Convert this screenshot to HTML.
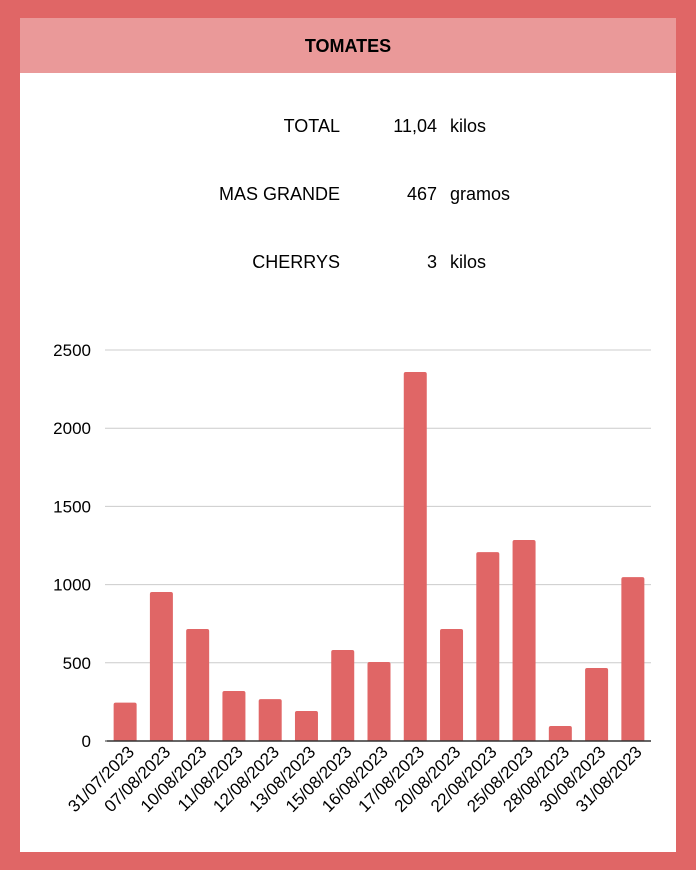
<!DOCTYPE html>
<html><head><meta charset="utf-8"><style>
body{margin:0;width:696px;height:870px;background:#e06666;font-family:"Liberation Sans",Arial,sans-serif;position:relative;overflow:hidden}
#panel{position:absolute;left:20px;top:18px;width:656px;height:834px;background:#fff}
#hdr{position:absolute;left:0;top:0;width:656px;height:55px;background:#ea9999;text-align:center;line-height:56px;font-weight:bold;font-size:18px;color:#000}
</style></head><body>
<div id="panel">
<div id="hdr">TOMATES</div>
</div>
<div style="position:absolute;left:20px;top:0;width:656px;height:870px;font-size:18px">
<div style="position:absolute;right:336px;top:116px">TOTAL</div>
<div style="position:absolute;right:239px;top:116px">11,04</div>
<div style="position:absolute;left:430px;top:116px">kilos</div>
<div style="position:absolute;right:336px;top:184px">MAS GRANDE</div>
<div style="position:absolute;right:239px;top:184px">467</div>
<div style="position:absolute;left:430px;top:184px">gramos</div>
<div style="position:absolute;right:336px;top:252px">CHERRYS</div>
<div style="position:absolute;right:239px;top:252px">3</div>
<div style="position:absolute;left:430px;top:252px">kilos</div>
</div>
<svg id="chart" width="696" height="870" style="position:absolute;left:0;top:0"></svg>
<script>
const categories=["31/07/2023","07/08/2023","10/08/2023","11/08/2023","12/08/2023","13/08/2023","15/08/2023","16/08/2023","17/08/2023","20/08/2023","22/08/2023","25/08/2023","28/08/2023","30/08/2023","31/08/2023"];
const values=[245,953,716,320,268,192,582,505,2359,716,1208,1285,96,467,1048];
const ticks=[0,500,1000,1500,2000,2500];
const NS="http://www.w3.org/2000/svg";
const svg=document.getElementById('chart');
const x0=107,x1=651,y0=741,yTop=350,max=2500;
const y=v=>y0-(y0-yTop)*v/max;
const step=(x1-x0)/categories.length;
const xc=i=>x0+step*(i+0.5);
function mk(t,a){const e=document.createElementNS(NS,t);for(const k in a)e.setAttribute(k,a[k]);svg.appendChild(e);return e;}
ticks.forEach(t=>{
 const l=mk('line',{x1:x0-2,x2:x1,y1:y(t),y2:y(t),stroke:t===0?'#333':'#ccc','stroke-width':1});
 
 
 const tx=mk('text',{x:91,y:y(t)+6,'text-anchor':'end','font-size':17,'font-family':'Liberation Sans, Arial, sans-serif',fill:'#000'});
 tx.textContent=t;
 
 
});
values.forEach((v,i)=>{
 const w=23;
 const r=mk('path',{d:`M${xc(i)-w/2},${y0} V${y(v)+2} q0,-2 2,-2 H${xc(i)+w/2-2} q2,0 2,2 V${y0} Z`,fill:'#e06666'});
 
 
 const tx=mk('text',{x:0,y:0,'text-anchor':'end','font-size':17,'font-family':'Liberation Sans, Arial, sans-serif',fill:'#000',transform:`translate(${xc(i)+10},${y0+12}) rotate(-45)`});
 tx.textContent=categories[i];
 
 
});
mk('line',{x1:x0,x2:x1,y1:y0,y2:y0,stroke:'#333','stroke-width':1.5});
</script>
</body></html>
